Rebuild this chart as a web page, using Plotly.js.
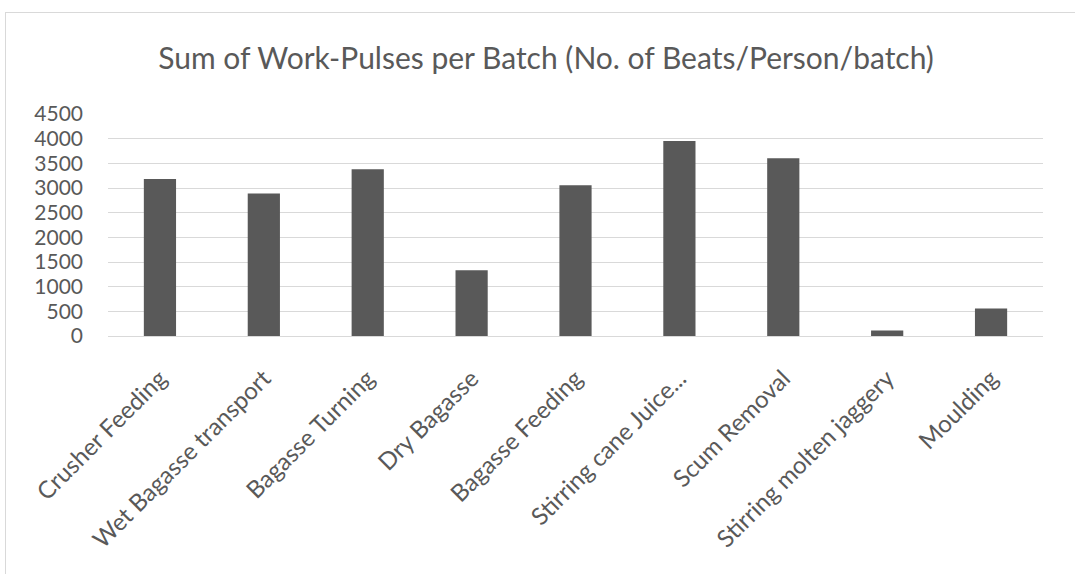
<!DOCTYPE html>
<html>
<head>
<meta charset="utf-8">
<script src="https://cdn.plot.ly/plotly-3.0.1.min.js"></script>
<style>
  html, body { margin: 0; padding: 0; background: #fff; }
  #chart { width: 1075px; height: 574px; }
  #frame { position: absolute; left: 5px; top: 12px; width: 1080px; height: 600px;
           border-left: 1px solid #d9d9d9; border-top: 1px solid #d9d9d9; pointer-events: none; }
</style>
</head>
<body>
<div id="chart"></div>
<div id="frame"></div>
<script>
const categories = ["Crusher Feeding", "Wet Bagasse transport", "Bagasse Turning", "Dry Bagasse",
  "Bagasse Feeding", "Stirring cane Juice...", "Scum Removal", "Stirring molten jaggery", "Moulding"];
const beats = [3180, 2890, 3380, 1335, 3055, 3955, 3605, 110, 555];
const yTicks = [0, 500, 1000, 1500, 2000, 2500, 3000, 3500, 4000, 4500];

const trace = {
  type: "bar",
  x: categories,
  y: beats,
  marker: { color: "#595959" },
  hoverinfo: "x+y"
};

const layout = {
  width: 1075, height: 574,
  margin: { l: 108, r: 32, t: 114, b: 238 },
  paper_bgcolor: "#ffffff",
  plot_bgcolor: "#ffffff",
  bargap: 0.69,
  showlegend: false,
  title: {
    text: "Sum of Work-Pulses per Batch (No. of Beats/Person/batch)",
    font: { family: "Lato, sans-serif", size: 30, color: "#595959" },
    x: 0.508, xanchor: "center",
    y: 1 - 58 / 574, yanchor: "middle", yref: "container"
  },
  xaxis: {
    tickangle: -45,
    tickfont: { family: "Lato, sans-serif", size: 24, color: "#595959" },
    showgrid: false,
    showline: true, linecolor: "#d9d9d9", linewidth: 1,
    ticks: "", automargin: false,
    ticklabelstandoff: 18
  },
  yaxis: {
    range: [0, 4500],
    tickvals: yTicks,
    ticktext: yTicks.map(String),
    tickfont: { family: "Lato, sans-serif", size: 21, color: "#595959" },
    gridcolor: "#d9d9d9", gridwidth: 1,
    zeroline: false,
    showline: false,
    ticks: "", ticklen: 0, automargin: false,
    ticklabelstandoff: 24
  }
};

Plotly.newPlot("chart", [trace], layout, { displayModeBar: false, staticPlot: true });
</script>
</body>
</html>
